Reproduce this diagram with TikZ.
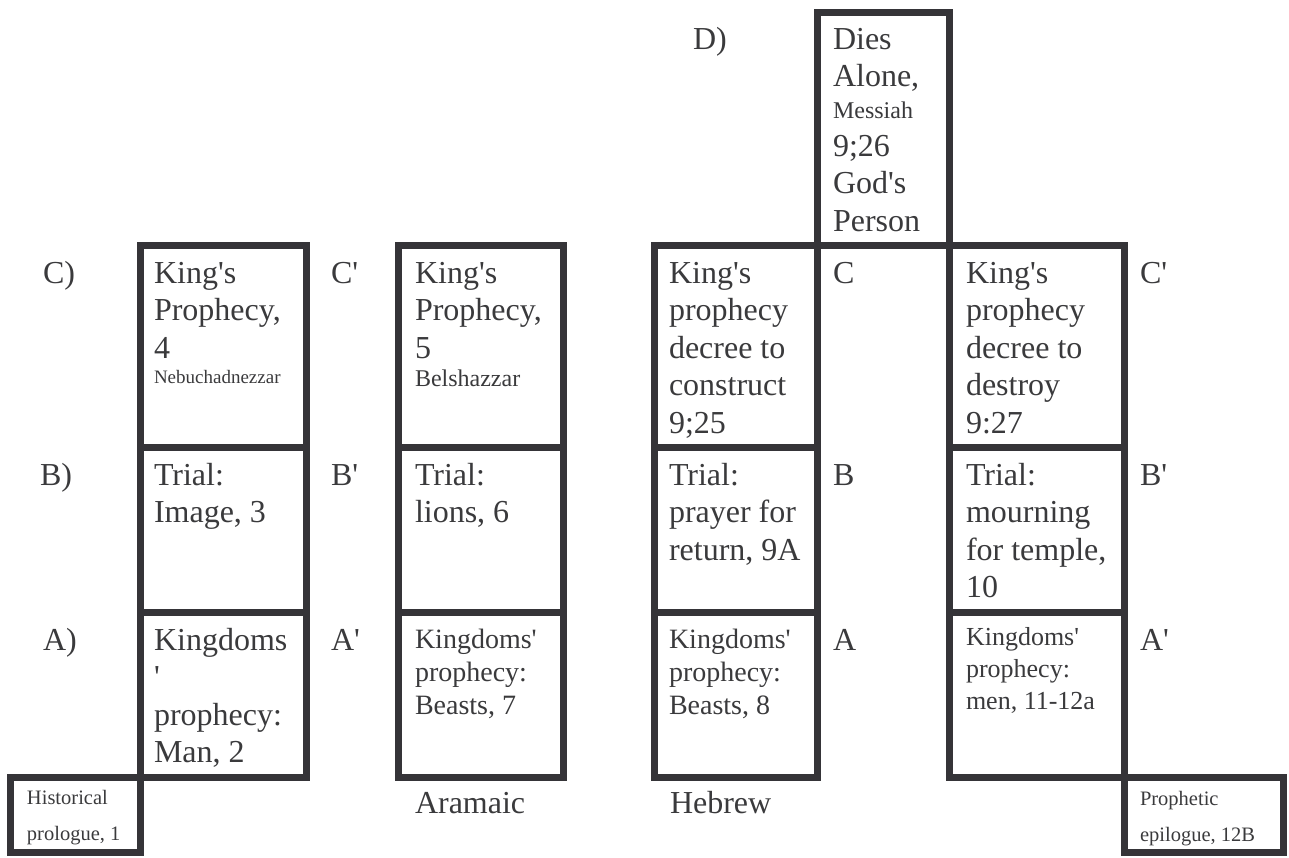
\documentclass[tikz,border=0pt]{standalone}
\usepackage{fontspec}
\usepackage{graphicx}
\setmainfont{Liberation Serif}[Ligatures=TeXOff]
\definecolor{ln}{RGB}{53,52,56}
\definecolor{tx}{RGB}{58,58,60}
\newcommand{\cellbox}[3]{\scalebox{2}{\parbox[t]{110pt}{\raggedright\fontsize{#1}{#2}\selectfont\rule{0pt}{12.5pt}#3}}}
\begin{document}
\begin{tikzpicture}[x=1pt,y=-1pt,
  cell/.style={draw=ln,line width=7pt},
  txt/.style={anchor=north west,inner sep=0pt,outer sep=0pt,text=tx}]
\useasboundingbox (0,0) rectangle (1289,857);
% column 1
\draw[cell] (140,245.5) rectangle (306.5,447.5);
\draw[cell] (140,447.5) rectangle (306.5,612.5);
\draw[cell] (140,612.5) rectangle (306.5,777);
% column 2
\draw[cell] (398.5,245.5) rectangle (563.5,447.5);
\draw[cell] (398.5,447.5) rectangle (563.5,612.5);
\draw[cell] (398.5,612.5) rectangle (563.5,777);
% column 3
\draw[cell] (654.5,245.5) rectangle (817,447.5);
\draw[cell] (654.5,447.5) rectangle (817,612.5);
\draw[cell] (654.5,612.5) rectangle (817,777);
% column 4
\draw[cell] (949.5,245.5) rectangle (1124.5,447.5);
\draw[cell] (949.5,447.5) rectangle (1124.5,612.5);
\draw[cell] (949.5,612.5) rectangle (1124.5,777);
% D box
\draw[cell] (817,12.5) rectangle (949.5,245.5);
% prologue / epilogue
\draw[cell] (10.5,777) rectangle (140,852);
\draw[cell] (1124.5,777) rectangle (1283.5,852);

% labels
\node[txt] (lD) at (693,24) {\cellbox{16}{18.75}{D)}};
\node[txt] (lC1) at (43,258) {\cellbox{16}{18.75}{C)}};
\node[txt] (lC2) at (331,258) {\cellbox{16}{18.75}{C'}};
\node[txt] (lC3) at (833,258) {\cellbox{16}{18.75}{C}};
\node[txt] (lC4) at (1140,258) {\cellbox{16}{18.75}{C'}};
\node[txt] (lB1) at (40,460) {\cellbox{16}{18.75}{B)}};
\node[txt] (lB2) at (331,460) {\cellbox{16}{18.75}{B'}};
\node[txt] (lB3) at (833,460) {\cellbox{16}{18.75}{B}};
\node[txt] (lB4) at (1140,460) {\cellbox{16}{18.75}{B'}};
\node[txt] (lA1) at (43,625) {\cellbox{16}{18.75}{A)}};
\node[txt] (lA2) at (331,625) {\cellbox{16}{18.75}{A'}};
\node[txt] (lA3) at (833,625) {\cellbox{16}{18.75}{A}};
\node[txt] (lA4) at (1140,625) {\cellbox{16}{18.75}{A'}};

% D box text
\node[txt] (dies) at (833,24) {\cellbox{16}{18.75}{Dies\\Alone,\\[-2.75pt]{\fontsize{12}{14}\selectfont Messiah}\\9;26\\God's\\Person}};

% row C
\node[txt] (c1) at (154,258) {\cellbox{16}{18.75}{King's\\Prophecy,\\4\\[-6.25pt]{\fontsize{9.5}{11}\selectfont Nebuchadnezzar}}};
\node[txt] (c2) at (415,258) {\cellbox{16}{18.75}{King's\\Prophecy,\\5\\[-4.5pt]{\fontsize{12}{14}\selectfont Belshazzar}}};
\node[txt] (c3) at (669,258) {\cellbox{16}{18.75}{King's\\prophecy\\decree to\\construct\\9;25}};
\node[txt] (c4) at (966,258) {\cellbox{16}{18.75}{King's\\prophecy\\decree to\\destroy\\9:27}};

% row B
\node[txt] (b1) at (154,460) {\cellbox{16}{18.75}{Trial:\\Image, 3}};
\node[txt] (b2) at (415,460) {\cellbox{16}{18.75}{Trial:\\lions, 6}};
\node[txt] (b3) at (669,460) {\cellbox{16}{18.75}{Trial:\\prayer for\\return, 9A}};
\node[txt] (b4) at (966,460) {\cellbox{16}{18.75}{Trial:\\mourning\\for temple,\\10}};

% row A
\node[txt] (a1) at (154,625) {\cellbox{16}{18.75}{Kingdoms\\'\\prophecy:\\Man, 2}};
\node[txt] (a2) at (415,623) {\cellbox{14}{16.5}{Kingdoms'\\prophecy:\\Beasts, 7}};
\node[txt] (a3) at (669,623) {\cellbox{14}{16.5}{Kingdoms'\\prophecy:\\Beasts, 8}};
\node[txt] (a4) at (966,620) {\cellbox{13}{16}{Kingdoms'\\prophecy:\\men, 11-12a}};

% footer
\node[txt] (pro) at (27,779) {\cellbox{10.25}{18}{Historical\\prologue, 1}};
\node[txt] (epi) at (1140,780) {\cellbox{10.25}{18}{Prophetic\\epilogue, 12B}};
\node[txt] (ara) at (415,788) {\cellbox{16}{18.75}{Aramaic}};
\node[txt] (heb) at (670,788) {\cellbox{16}{18.75}{Hebrew}};
\end{tikzpicture}
\end{document}
